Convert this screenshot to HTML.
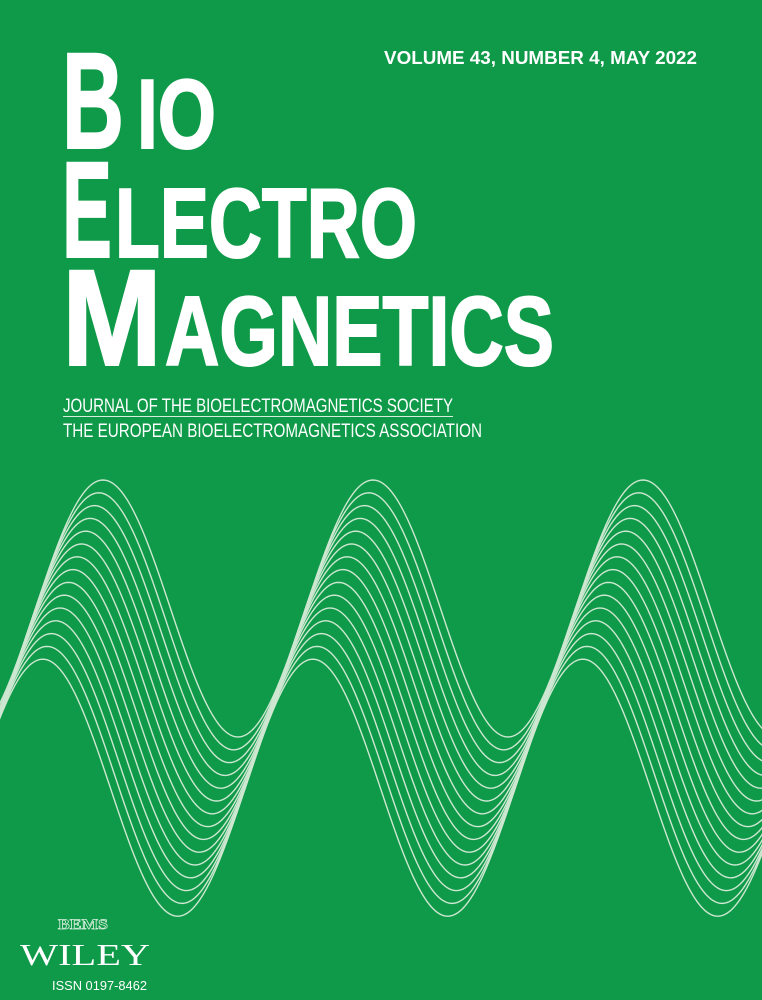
<!DOCTYPE html>
<html><head><meta charset="utf-8"><style>
html,body{margin:0;padding:0;background:#0e9a48;}
svg{display:block}
.t{font-family:"Liberation Sans Narrow","Liberation Sans",sans-serif;font-weight:bold;fill:#fff}
.j{font-family:"Liberation Sans Narrow","Liberation Sans",sans-serif;fill:#fff}
</style></head><body>
<svg id="cover" width="762" height="1000" viewBox="0 0 762 1000" xmlns="http://www.w3.org/2000/svg">
<rect width="762" height="1000" fill="#0e9a48"/>
<text class="t" x="384" y="64" font-size="18" textLength="313" lengthAdjust="spacingAndGlyphs">VOLUME 43, NUMBER 4, MAY 2022</text>
<g stroke="#fff" stroke-width="2">
<text class="t" x="62" y="148" font-size="137" textLength="62" lengthAdjust="spacingAndGlyphs">B</text>
<text class="t" x="137" y="148" font-size="98" textLength="79" lengthAdjust="spacingAndGlyphs">IO</text>
<text class="t" x="62" y="257" font-size="137" textLength="50" lengthAdjust="spacingAndGlyphs">E</text>
<text class="t" x="115" y="257" font-size="98" textLength="302" lengthAdjust="spacingAndGlyphs">LECTRO</text>
<text class="t" x="62" y="365" font-size="137" textLength="100" lengthAdjust="spacingAndGlyphs">M</text>
<text class="t" x="165" y="365" font-size="98" textLength="389" lengthAdjust="spacingAndGlyphs">AGNETICS</text>
</g>
<text class="j" x="63" y="412" font-size="19" textLength="390" lengthAdjust="spacingAndGlyphs">JOURNAL OF THE BIOELECTROMAGNETICS SOCIETY</text>
<rect x="63" y="416" width="390" height="1" fill="#d8eedd"/>
<text class="j" x="63" y="437" font-size="19" textLength="419" lengthAdjust="spacingAndGlyphs">THE EUROPEAN BIOELECTROMAGNETICS ASSOCIATION</text>
<g id="waves"></g>
<text x="58" y="929" font-family="Liberation Serif,serif" font-size="15" font-weight="bold" fill="none" stroke="#d8eedd" stroke-width="0.7" textLength="50" lengthAdjust="spacingAndGlyphs">BEMS</text>
<text x="20" y="965" font-family="Liberation Serif,serif" font-size="31" fill="#fff" textLength="130" lengthAdjust="spacingAndGlyphs">WILEY</text>
<text x="52" y="990" font-family="Liberation Sans,sans-serif" font-size="12.5" fill="#fff" textLength="95" lengthAdjust="spacingAndGlyphs">ISSN 0197-8462</text>
</svg>
<script>
const lineIndex=[0,1,2,3,4,5,6,7,8,9,10,11,12,13,14];
const peakX=[103];
const period=[270];
const centerY=[608.5];
const amplitude=[128.5];
const lineSpacing=[12.8];
const lineShiftX=[-4.3];
const g=document.getElementById('waves');
lineIndex.forEach(function(i){
  let d='';
  for(let x=-5;x<=767;x+=2){
    const y=centerY[0]-amplitude[0]*Math.cos(2*Math.PI*(x-peakX[0]-i*lineShiftX[0])/period[0])+i*lineSpacing[0];
    d+=(x===-5?'M':'L')+x+' '+y.toFixed(2);
  }
  const p=document.createElementNS('http://www.w3.org/2000/svg','path');
  p.setAttribute('d',d);
  p.setAttribute('fill','none');
  p.setAttribute('stroke','#cde7d1');
  p.setAttribute('stroke-width','1.4');
  
  
  g.appendChild(p);
});
</script>
</body></html>
